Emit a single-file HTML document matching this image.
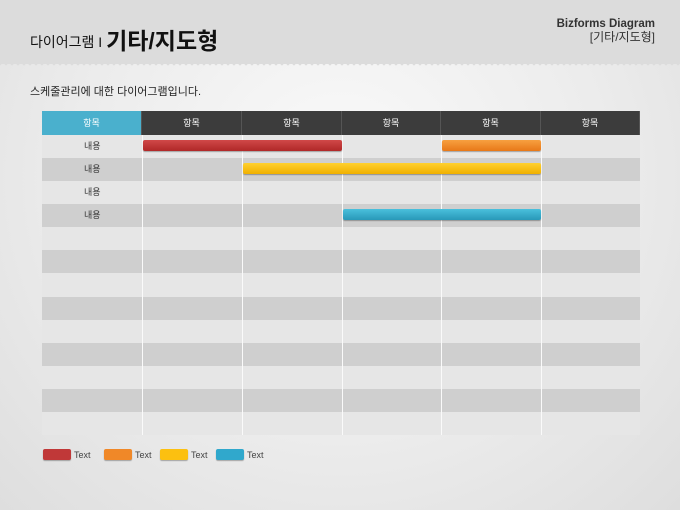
<!DOCTYPE html><html><head><meta charset="utf-8"><style>
body{margin:0;width:680px;height:510px;overflow:hidden;font-family:"Liberation Sans","Noto Sans CJK KR",sans-serif;background:radial-gradient(ellipse at 50% 35%,#fafafa 0%,#ececec 55%,#dedede 100%);position:relative}
.top{position:absolute;left:0;top:0;width:680px;height:64px;background:#dcdcdc}
.zig{position:absolute;left:0;top:62px;width:680px;height:6px;background:linear-gradient(135deg,#dcdcdc 33%,transparent 33%),linear-gradient(225deg,#dcdcdc 33%,transparent 33%);background-size:6px 6px}
.a{position:absolute;white-space:nowrap}
.c{position:absolute;box-sizing:border-box}
.bar{position:absolute;height:11px;border-radius:2px;box-shadow:0 1px 1px rgba(0,0,0,.3)}
.lg{position:absolute;top:449px;width:28px;height:11px;border-radius:2px;box-shadow:0 1px 1px rgba(0,0,0,.3)}
</style></head><body>
<div class="top"></div><div class="zig"></div>
<div class="a" style="left:30px;top:20px;font-size:14px;color:#111">다이어그램 I <b style="font-size:23px;position:relative;top:2px">기타/지도형</b></div>
<div class="a" style="right:25px;top:17px;font-size:12px;color:#333;text-align:right;line-height:13px"><b style="font-size:11.5px">Bizforms Diagram</b><br>[기타/지도형]</div>
<div class="a" style="left:30px;top:83px;font-size:11px;color:#222">스케줄관리에 대한 다이어그램입니다.</div>
<div id="t"></div>
<script>
var h='';var xs=[42,142,242,342,441,541,640];
for(var i=0;i<6;i++){h+='<div class="c" style="left:'+xs[i]+'px;top:111px;width:'+(xs[i+1]-xs[i])+'px;height:24px;background:'+(i?'#3c3c3c':'#4ab0cd')+';color:#fff;font-size:9px;text-align:center;line-height:24px;border-right:1px solid #555">항목</div>';}
for(var r=0;r<13;r++){var y=135+r*23.08;h+='<div class="c" style="left:42px;top:'+y+'px;width:598px;height:23.1px;background:'+(r%2?'#cfcfcf':'#e6e6e6')+';font-size:9px;color:#333;line-height:23px;padding-left:42px">'+(r<4?'내용':'')+'</div>';}
for(var i=1;i<6;i++)h+='<div class="c" style="left:'+xs[i]+'px;top:135px;width:1px;height:300px;background:#fafafa"></div>';
document.getElementById('t').outerHTML=h;
</script>
<div class="bar" style="left:143px;top:140px;width:199px;background:linear-gradient(#d04848,#b02828)"></div>
<div class="bar" style="left:442px;top:140px;width:99px;background:linear-gradient(#f7a040,#e87818)"></div>
<div class="bar" style="left:243px;top:163px;width:298px;background:linear-gradient(#ffd030,#f0b000)"></div>
<div class="bar" style="left:343px;top:209px;width:198px;background:linear-gradient(#4ac0dc,#2898b8)"></div>
<div class="lg" style="left:43px;background:#c03838"></div><div class="a" style="left:74px;top:450px;font-size:9px;color:#444">Text</div>
<div class="lg" style="left:104px;background:#f08828"></div><div class="a" style="left:135px;top:450px;font-size:9px;color:#444">Text</div>
<div class="lg" style="left:160px;background:#fcc010"></div><div class="a" style="left:191px;top:450px;font-size:9px;color:#444">Text</div>
<div class="lg" style="left:216px;background:#30a8cc"></div><div class="a" style="left:247px;top:450px;font-size:9px;color:#444">Text</div>
</body></html>
